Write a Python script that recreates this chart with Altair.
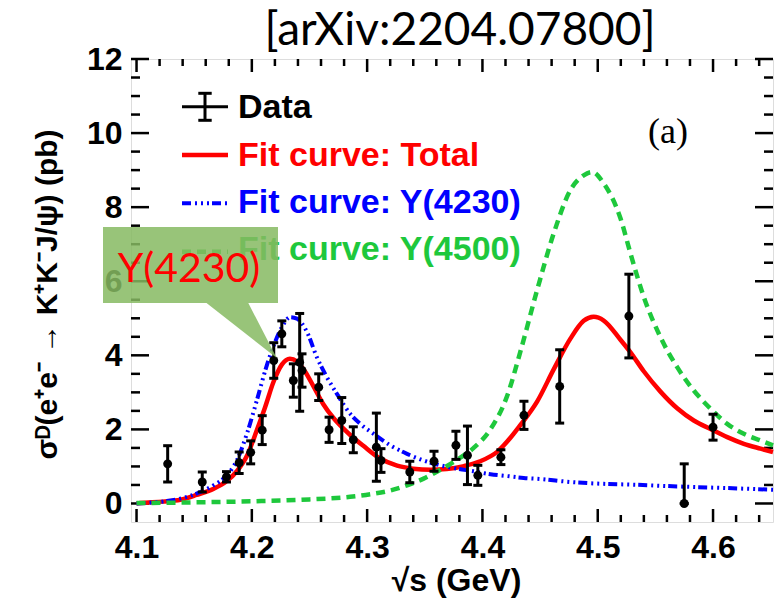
import altair as alt
import pandas as pd

# ---------------- text ----------------
TITLE = "[arXiv:2204.07800]"
X_TITLE = "√s (GeV)"
Y_TITLE = "σᴰ(e⁺e⁻ → K⁺K⁻J/ψ) (pb)"
PANEL_TAG = "(a)"
CALLOUT = "Y(4230)"
LEGEND_LABELS = ["Data", "Fit curve: Total", "Fit curve: Y(4230)", "Fit curve: Y(4500)"]
LEGEND_COLORS = ["#000000", "#ff0000", "#0000ff", "#1ec83c"]

# ---------------- axes ----------------
X_DOMAIN = [4.0952, 4.652]
Y_DOMAIN = [-0.5, 12]
X_MAJOR = [4.1, 4.2, 4.3, 4.4, 4.5, 4.6]
X_MINOR = [4.12, 4.14, 4.16, 4.18, 4.22, 4.24, 4.26, 4.28, 4.32, 4.34, 4.36, 4.38,
           4.42, 4.44, 4.46, 4.48, 4.52, 4.54, 4.56, 4.58, 4.62, 4.64]
Y_MAJOR = [0, 2, 4, 6, 8, 10, 12]
Y_MINOR = [0.5, 1, 1.5, 2.5, 3, 3.5, 4.5, 5, 5.5, 6.5, 7, 7.5, 8.5, 9, 9.5,
           10.5, 11, 11.5]

# ---------------- data points ----------------
ENERGY = [4.127, 4.157, 4.178, 4.189, 4.199, 4.209, 4.219, 4.226, 4.236, 4.2415,
          4.2435, 4.258, 4.267, 4.278, 4.288, 4.308, 4.312, 4.337, 4.358, 4.377,
          4.387, 4.396, 4.416, 4.436, 4.467, 4.527, 4.575, 4.600]
XSEC = [1.07, 0.58, 0.72, 1.10, 1.38, 1.98, 3.86, 4.58, 3.32, 3.81,
        3.59, 3.14, 1.99, 2.24, 1.72, 1.52, 1.16, 0.85, 1.14, 1.57,
        1.30, 0.76, 1.25, 2.38, 3.16, 5.06, 0.00, 2.06]
ERR_LO = [0.49, 0.27, 0.14, 0.29, 0.31, 0.39, 0.48, 0.35, 0.45, 1.32,
          0.45, 0.36, 0.34, 0.62, 0.35, 0.92, 0.32, 0.29, 0.27, 0.38,
          0.79, 0.27, 0.20, 0.38, 0.99, 1.13, 0.00, 0.35]
ERR_HI = [0.49, 0.27, 0.14, 0.29, 0.31, 0.39, 0.48, 0.35, 0.45, 1.32,
          0.45, 0.36, 0.34, 0.62, 0.35, 0.92, 0.32, 0.29, 0.27, 0.38,
          0.79, 0.27, 0.20, 0.38, 0.99, 1.13, 1.07, 0.35]

# ---------------- fit curves ----------------
RED_E = [4.100, 4.103, 4.123, 4.138, 4.152, 4.167, 4.178, 4.187, 4.196, 4.204,
         4.2115, 4.219, 4.226, 4.233, 4.239, 4.246, 4.2535, 4.262, 4.271, 4.2795,
         4.2853, 4.297, 4.311, 4.326, 4.340, 4.355, 4.369, 4.384, 4.398, 4.413,
         4.425, 4.433, 4.4474, 4.4618, 4.4763, 4.4878, 4.4965, 4.5052, 4.5197, 4.5284,
         4.5399, 4.5544, 4.5689, 4.5833, 4.5978, 4.6123, 4.6267, 4.6412, 4.652]
RED_V = [0.00, 0.01, 0.05, 0.10, 0.23, 0.40, 0.60, 0.87, 1.30, 1.95,
         2.60, 3.30, 3.75, 3.91, 3.84, 3.57, 3.16, 2.68, 2.30, 2.02,
         1.85, 1.55, 1.22, 1.02, 0.94, 0.91, 0.93, 1.01, 1.14, 1.40,
         1.80, 2.12, 2.75, 3.62, 4.45, 4.93, 5.04, 4.94, 4.42, 4.08,
         3.57, 3.02, 2.57, 2.24, 2.01, 1.79, 1.61, 1.48, 1.39]

BLUE_E = [4.100, 4.138, 4.1553, 4.1667, 4.1783, 4.187, 4.1957, 4.2043, 4.213, 4.2188,
          4.226, 4.2333, 4.2391, 4.2478, 4.2564, 4.2651, 4.2738, 4.2853, 4.294, 4.3056,
          4.3201, 4.3346, 4.349, 4.3635, 4.378, 4.3924, 4.4069, 4.4214, 4.4358, 4.4503,
          4.4763, 4.5052, 4.5284, 4.5689, 4.6267, 4.652]
BLUE_V = [0.00, 0.13, 0.31, 0.49, 0.76, 1.16, 1.88, 2.78, 3.73, 4.25,
          4.76, 5.03, 4.99, 4.63, 3.95, 3.41, 2.96, 2.42, 2.15, 1.88,
          1.57, 1.34, 1.16, 1.03, 0.94, 0.87, 0.79, 0.74, 0.69, 0.66,
          0.58, 0.53, 0.51, 0.46, 0.40, 0.37]

GREEN_E = [4.100, 4.150, 4.200, 4.250, 4.2853, 4.3027, 4.3201, 4.3346, 4.349, 4.3635,
           4.378, 4.3924, 4.4069, 4.4214, 4.4329, 4.4474, 4.4618, 4.4763, 4.4878, 4.4951,
           4.5052, 4.5197, 4.5284, 4.5399, 4.5544, 4.5689, 4.5833, 4.5978, 4.6123, 4.6267,
           4.6412, 4.652]
GREEN_V = [0.01, 0.03, 0.06, 0.11, 0.18, 0.25, 0.35, 0.49, 0.67, 0.91,
           1.18, 1.50, 2.00, 2.90, 4.10, 5.76, 7.29, 8.46, 8.86, 8.95,
           8.64, 7.70, 6.75, 5.58, 4.49, 3.68, 3.05, 2.56, 2.15, 1.88,
           1.70, 1.57]

# ---------------- layout ----------------
W, H = 642, 463
BOLD_FONT = "Liberation Sans"

pts = pd.DataFrame({"E": ENERGY, "v": XSEC})
pts["lo"] = [v - e for v, e in zip(XSEC, ERR_LO)]
pts["hi"] = [v + e for v, e in zip(XSEC, ERR_HI)]
red = pd.DataFrame({"E": RED_E, "v": RED_V})
blue = pd.DataFrame({"E": BLUE_E, "v": BLUE_V})
green = pd.DataFrame({"E": GREEN_E, "v": GREEN_V})

xs = alt.Scale(domain=X_DOMAIN, nice=False, zero=False)
ys = alt.Scale(domain=Y_DOMAIN, nice=False, zero=False)

AX_X = alt.Axis(values=X_MAJOR, format=".1f", ticks=False, tickSize=0, domain=False, grid=False,
                labelFont=BOLD_FONT, labelFontWeight="bold", labelFontSize=32, labelColor="black",
                labelPadding=10, labelFlush=False, labelOverlap=False,
                title=X_TITLE, titleFont=BOLD_FONT, titleFontWeight="bold", titleFontSize=32,
                titleColor="black", titleX=325, titleY=58, titleBaseline="middle", titleAlign="center")
AX_Y = alt.Axis(values=Y_MAJOR, format="d", ticks=False, tickSize=0, domain=False, grid=False,
                labelFont=BOLD_FONT, labelFontWeight="bold", labelFontSize=32, labelColor="black",
                labelPadding=9, labelFlush=False, labelOverlap=False,
                title=Y_TITLE, titleFont=BOLD_FONT, titleFontWeight="bold", titleFontSize=30,
                titleColor="black", titleX=-84, titleY=235, titleAngle=270,
                titleBaseline="middle", titleAlign="center")


def X(field="E"):
    return alt.X(f"{field}:Q", scale=xs, axis=AX_X)


def Y(field="v"):
    return alt.Y(f"{field}:Q", scale=ys, axis=AX_Y)


layers = []

# frame ticks (inward, on all four sides)
for vals, length in [(Y_MAJOR, 18), (Y_MINOR, 9)]:
    d = pd.DataFrame({"v": vals})
    layers.append(alt.Chart(d).mark_rule(color="black", strokeWidth=2.5)
                  .encode(y=Y(), x=alt.value(0), x2=alt.value(length)))
    layers.append(alt.Chart(d).mark_rule(color="black", strokeWidth=2.5)
                  .encode(y=Y(), x=alt.value(W - length), x2=alt.value(W)))
for vals, length in [(X_MAJOR, 13), (X_MINOR, 7)]:
    d = pd.DataFrame({"E": vals})
    layers.append(alt.Chart(d).mark_rule(color="black", strokeWidth=2.5)
                  .encode(x=X(), y=alt.value(H - length), y2=alt.value(H)))
    layers.append(alt.Chart(d).mark_rule(color="black", strokeWidth=2.5)
                  .encode(x=X(), y=alt.value(0), y2=alt.value(length)))

# fit curves
layers.append(alt.Chart(red).mark_line(color="#ff0000", strokeWidth=4.5, interpolate="monotone")
              .encode(x=X(), y=Y()))
layers.append(alt.Chart(blue).mark_line(color="#0000ff", strokeWidth=4,
                                        strokeDash=[9, 4, 2, 4, 2, 4, 2, 3],
                                        interpolate="monotone")
              .encode(x=X(), y=Y()))
layers.append(alt.Chart(green).mark_line(color=LEGEND_COLORS[3], strokeWidth=4.5,
                                         strokeDash=[9, 6], interpolate="monotone")
              .encode(x=X(), y=Y()))

# data with error bars
layers.append(alt.Chart(pts).mark_rule(color="black", strokeWidth=3)
              .encode(x=X(), y=Y("lo"), y2="hi:Q"))
for f in ["lo", "hi"]:
    layers.append(alt.Chart(pts).mark_rule(color="black", strokeWidth=3, xOffset=-4.5, x2Offset=4.5)
                  .encode(x=X(), x2="E:Q", y=Y(f)))
layers.append(alt.Chart(pts).mark_circle(color="black", size=80, opacity=1)
              .encode(x=X(), y=Y()))

# legend
LEG_BASE = [59.3, 107, 153.7, 201]
LEG_MID = [47.7, 96, 144.3, 192.7]
for lab, col, yb in zip(LEGEND_LABELS, LEGEND_COLORS, LEG_BASE):
    layers.append(alt.Chart(pd.DataFrame({"label": [lab]}))
                  .mark_text(font=BOLD_FONT, fontWeight="bold", fontSize=34, color=col,
                             align="left", baseline="alphabetic")
                  .encode(text="label:N", x=alt.value(107), y=alt.value(yb)))
one = pd.DataFrame({"k": [0]})
# Data symbol
layers.append(alt.Chart(one).mark_rule(color="black", strokeWidth=3)
              .encode(x=alt.value(51), x2=alt.value(97), y=alt.value(LEG_MID[0])))
layers.append(alt.Chart(one).mark_rule(color="black", strokeWidth=3)
              .encode(x=alt.value(74), y=alt.value(34.3), y2=alt.value(61.3)))
for yc in [34.3, 61.3]:
    layers.append(alt.Chart(one).mark_rule(color="black", strokeWidth=3)
                  .encode(x=alt.value(67.3), x2=alt.value(80.7), y=alt.value(yc)))
# line symbols
layers.append(alt.Chart(one).mark_rule(color="#ff0000", strokeWidth=4.5)
              .encode(x=alt.value(51), x2=alt.value(97), y=alt.value(LEG_MID[1])))
layers.append(alt.Chart(one).mark_rule(color="#0000ff", strokeWidth=4,
                                       strokeDash=[9, 4, 2, 4, 2, 4, 2, 3])
              .encode(x=alt.value(51), x2=alt.value(97), y=alt.value(LEG_MID[2])))
layers.append(alt.Chart(one).mark_rule(color=LEGEND_COLORS[3], strokeWidth=4.5, strokeDash=[9, 6])
              .encode(x=alt.value(51), x2=alt.value(97), y=alt.value(LEG_MID[3])))

# panel tag
layers.append(alt.Chart(pd.DataFrame({"t": [PANEL_TAG]}))
              .mark_text(font="Liberation Serif", fontSize=36, color="black",
                         align="center", baseline="alphabetic")
              .encode(text="t:N", x=alt.value(537), y=alt.value(84.3)))

# title above the frame
layers.append(alt.Chart(pd.DataFrame({"t": [TITLE]}))
              .mark_text(font="Lato", fontSize=46, color="black",
                         align="center", baseline="alphabetic")
              .encode(text="t:N", x=alt.value(329), y=alt.value(-14)))

# callout box with pointer (one filled path)
CALLOUT_PATH = ("M-1,-0.7486L1,-0.7486L1,0.12L0.6606,0.12L0.9851,0.7486"
                "L0.1829,0.12L-1,0.12Z")
layers.append(alt.Chart(one).mark_point(shape=CALLOUT_PATH, filled=True, fill="#86ba62",
                                        fillOpacity=0.85, strokeWidth=0, size=175 * 175,
                                        opacity=1)
              .encode(x=alt.value(59.5), y=alt.value(233.5)))
layers.append(alt.Chart(pd.DataFrame({"t": [CALLOUT]}))
              .mark_text(font="Lato", fontSize=41, color="#ff0000",
                         align="center", baseline="alphabetic")
              .encode(text="t:N", x=alt.value(58), y=alt.value(222.7)))

chart = alt.layer(*layers).properties(
    width=W, height=H,
    autosize=alt.AutoSizeParams(type="none"),
    padding={"left": 131, "top": 59, "right": 1, "bottom": 80},
).configure_view(stroke="black", strokeWidth=3).configure(background="white")

chart.save("out.html", embed_options={"renderer": "svg", "actions": False})
